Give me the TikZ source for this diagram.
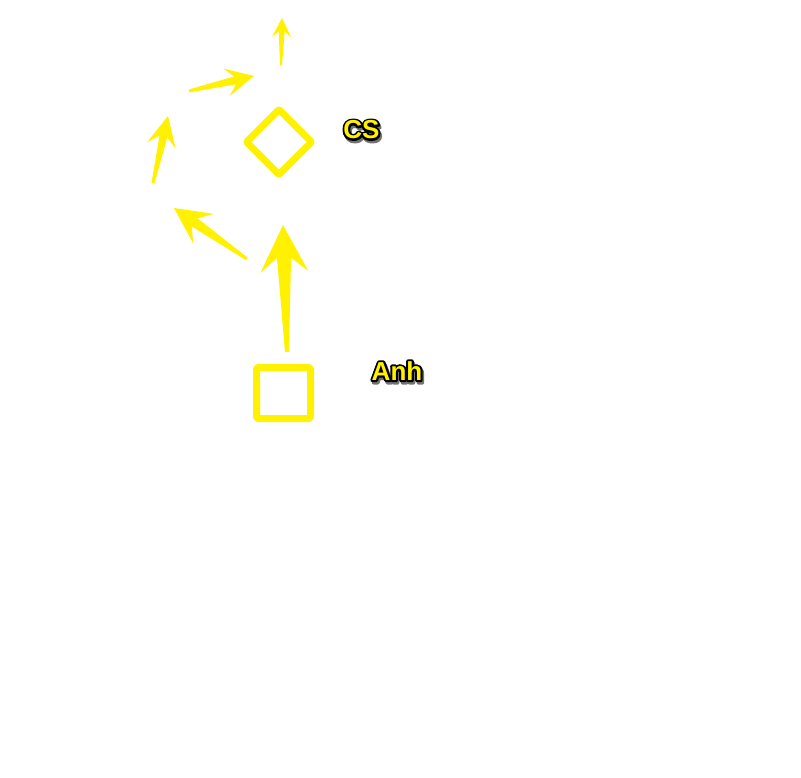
\documentclass[tikz,border=0pt]{standalone}
\usepackage{fontspec}
\setmainfont{Liberation Sans}
\usetikzlibrary{calc}
\definecolor{pyellow}{RGB}{255,241,0}
\tikzset{
  playerbox/.style={draw=pyellow, line width=7pt, rounded corners=2pt, line join=round},
  routefill/.style={fill=pyellow},
  lbltext/.style={font=\fontsize{26}{26}\selectfont\bfseries, text=pyellow, inner sep=0pt}
}
% tapered route arrow: tail, tip, head length, head half width, neck half width, tail half width
\newcommand{\routearrow}[6]{%
  \coordinate (tl) at (#1);
  \coordinate (tp) at (#2);
  \coordinate (hb) at ($(tp)!#3!(tl)$);
  \coordinate (nk) at ($(tp)!0.7*#3!(tl)$);
  \fill[routefill] ($(tl)!#6!90:(tp)$) -- ($(nk)!#5!90:(tp)$) -- ($(hb)!#4!90:(tp)$)
    -- (tp) -- ($(hb)!#4!-90:(tp)$) -- ($(nk)!#5!-90:(tp)$) -- ($(tl)!#6!-90:(tp)$) -- cycle;
}
% outlined label text: grey shadow, black outline, yellow fill
\newcommand{\outlined}[1]{%
  \rlap{\kern1.5pt\lower2.5pt\hbox{\special{pdf:literal direct 2 Tr 4 w 1 j 0.45 0.45 0.45 rg 0.45 0.45 0.45 RG}#1}}%
  \rlap{\special{pdf:literal direct 1 Tr 4 w 1 j 0 0 0 RG}#1}%
  \special{pdf:literal direct 0 Tr}\textcolor{pyellow}{#1}}

\begin{document}
\begin{tikzpicture}[x=1pt, y=-1pt]
  \useasboundingbox (0,0) rectangle (801,778);

  % Players
  \draw[playerbox] (256.5,367.5) rectangle (310.5,418.5);
  \draw[playerbox, rounded corners=1pt] (279,109.5) -- (311.5,142) -- (279,174.5) -- (246.5,142) -- cycle;

  % Routes
  \routearrow{287,352}{283,225}{47pt}{24pt}{7pt}{2pt}
  \routearrow{247,259}{174,208}{36pt}{18pt}{5pt}{1.5pt}
  \routearrow{153,183}{168,116}{30pt}{14.5pt}{4pt}{1.5pt}
  \routearrow{189,91}{254,76}{28pt}{14pt}{4pt}{1.5pt}
  \routearrow{281,65}{282,18}{19pt}{9.5pt}{3pt}{1pt}

  % Labels
  \node[lbltext] (cs) at (361.5,131) {\outlined{CS}};
  \node[lbltext] (anh) at (397,372) {\outlined{Anh}};
\end{tikzpicture}
\end{document}
